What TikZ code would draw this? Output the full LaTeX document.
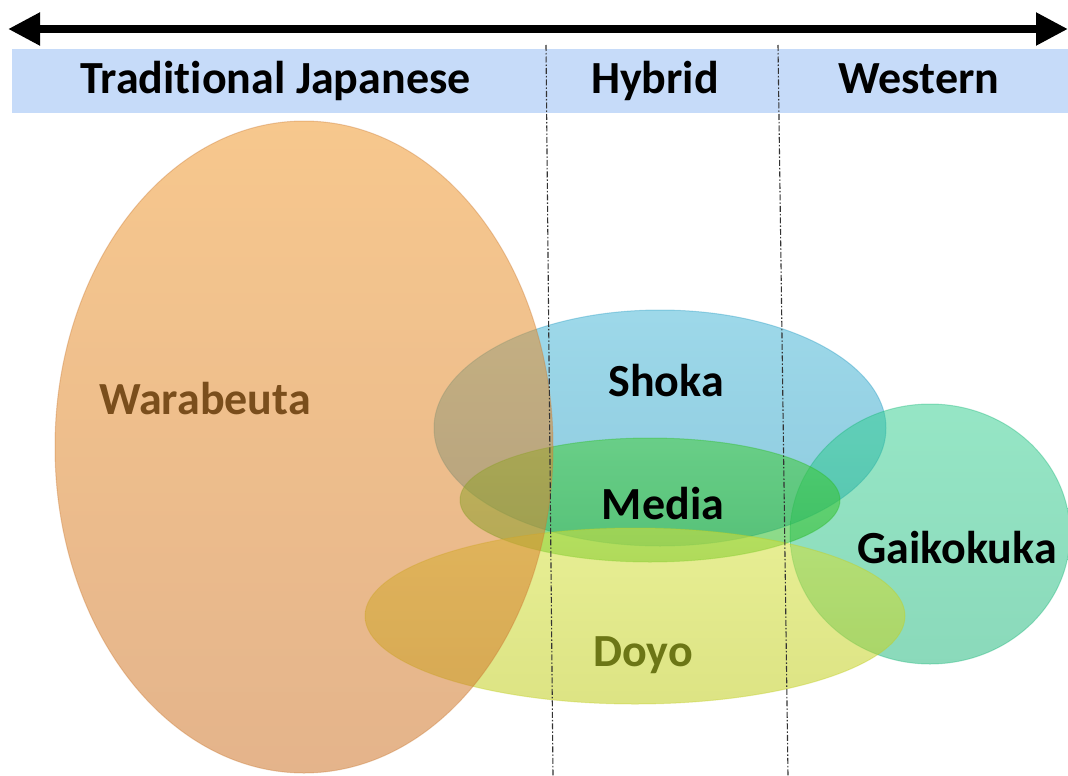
\documentclass[tikz,border=0pt]{standalone}
\usepackage{fontspec}
\setmainfont{Carlito}[Ligatures=NoCommon]
\usetikzlibrary{arrows.meta}
\definecolor{bandc}{RGB}{198,219,249}
\definecolor{orT}{RGB}{240,154,48}
\definecolor{orB}{RGB}{206,118,44}
\definecolor{orE}{RGB}{200,120,50}
\definecolor{shT}{RGB}{60,178,212}
\definecolor{shB}{RGB}{28,150,190}
\definecolor{gaT}{RGB}{45,205,140}
\definecolor{gaB}{RGB}{22,180,118}
\definecolor{meT}{RGB}{70,205,60}
\definecolor{meB}{RGB}{40,185,35}
\definecolor{doT}{RGB}{212,225,60}
\definecolor{doB}{RGB}{192,205,30}
\definecolor{wtext}{RGB}{122,78,28}
\definecolor{dtext}{RGB}{108,118,22}
\begin{document}
\begin{tikzpicture}[x=1pt,y=-1pt,
  lbl/.style={font=\fontsize{46}{50}\selectfont\bfseries, anchor=base, inner sep=0pt},
  blob/.style={fill opacity=#1, draw opacity=0.35, line width=1pt},
  divider/.style={line width=1.1pt, draw=black!80, dash pattern=on 6pt off 2pt on 1.5pt off 2pt}]
\useasboundingbox (0,0) rectangle (1068,776);
% top arrow and band
\coordinate (aL) at (8,29);
\coordinate (aR) at (1068,29);
\draw[line width=8pt, {Triangle[length=32pt,width=31pt]}-{Triangle[length=32pt,width=31pt]}] (aL) -- (aR);
\fill[bandc] (12,49) rectangle (1068,113);
\node[lbl] (tj) at (275.5,93) {Traditional Japanese};
\node[lbl] (hy) at (655,93) {Hybrid};
\node[lbl] (we) at (919,93) {Western};
% ellipses
\path[blob=0.5, top color=shT, bottom color=shB, draw=shB] (660,428) ellipse [x radius=226, y radius=118];
\path[blob=0.5, top color=gaT, bottom color=gaB, draw=gaB] (930,534) ellipse [x radius=140, y radius=130];
\path[blob=0.55, top color=meT, bottom color=meB, draw=meB] (650,500) ellipse [x radius=190, y radius=62];
\path[blob=0.55, top color=doT, bottom color=doB, draw=doB] (635,616) ellipse [x radius=270, y radius=88];
\path[blob=0.55, top color=orT, bottom color=orB, draw=orE] (304,447) ellipse [x radius=249, y radius=326];
% dividers
\coordinate (d1t) at (546,45);
\coordinate (d1b) at (553,776);
\coordinate (d2t) at (778,45);
\coordinate (d2b) at (788,776);
\draw[divider] (d1t) -- (d1b);
\draw[divider] (d2t) -- (d2b);
% labels
\node[lbl, text=wtext] (wa) at (205,414) {Warabeuta};
\node[lbl] (sh) at (666,396) {Shoka};
\node[lbl] (me) at (663,519) {Media};
\node[lbl] (ga) at (957,563) {Gaikokuka};
\node[lbl, text=dtext] (do) at (643,666) {Doyo};
\end{tikzpicture}
\end{document}
